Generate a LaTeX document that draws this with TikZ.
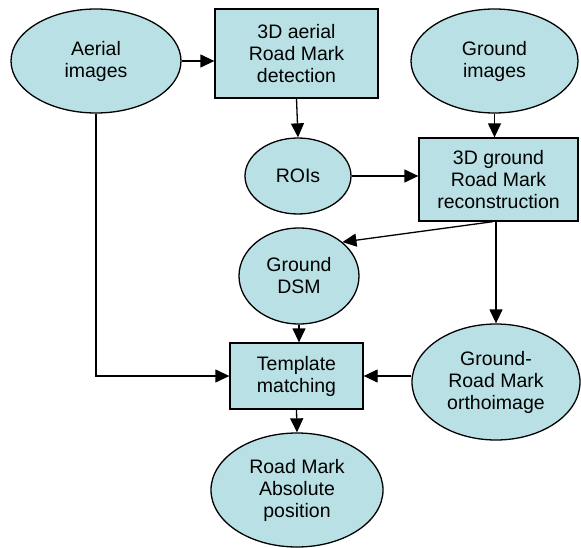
\documentclass[tikz,border=0pt]{standalone}
\usepackage{fontspec}
\setmainfont{Liberation Sans}
\usetikzlibrary{shapes.geometric,arrows.meta}
\definecolor{nodefill}{RGB}{185,224,228}
\tikzset{
  base/.style={draw=black, fill=nodefill, line width=1.3pt, inner sep=0pt, align=center,
    font=\fontsize{19.5}{22}\selectfont},
  oval/.style={base, ellipse},
  boxnode/.style={base, rectangle},
  conn/.style={line width=1.3pt, -{Triangle[length=14pt,width=13pt]}},
}
\begin{document}
\begin{tikzpicture}[x=1pt,y=-1pt]
\useasboundingbox (0,0) rectangle (581,548);
\node[oval, minimum width=170pt, minimum height=104pt] (ai) at (96,61) {Aerial\\images};
\node[boxnode, minimum width=163pt, minimum height=89pt] (ad) at (296.5,53.5) {3D aerial\\Road Mark\\detection};
\node[oval, minimum width=167pt, minimum height=104pt] (gi) at (494.5,61) {Ground\\images};
\node[oval, minimum width=106pt, minimum height=76pt] (roi) at (298,176) {ROIs};
\node[boxnode, minimum width=159pt, minimum height=83pt] (gr) at (498.5,179.5) {3D ground\\Road Mark\\reconstruction};
\node[oval, minimum width=120pt, minimum height=96pt] (dsm) at (299,276) {Ground\\DSM};
\node[oval, minimum width=168pt, minimum height=116pt] (gro) at (496,382) {Ground-\\Road Mark\\orthoimage};
\node[boxnode, minimum width=133pt, minimum height=66pt] (tm) at (296.5,376) {Template\\matching};
\node[oval, minimum width=172pt, minimum height=114pt] (rma) at (297,490) {Road Mark\\Absolute\\position};
\coordinate (split) at (gro.north |- gr.south);
\draw[conn] (ai.east) -- (ai.east -| ad.west);
\draw[conn] (ad.south) -- (roi.north);
\draw[conn] (gi.south) -- (gi.south |- gr.north);
\draw[conn] (roi.east) -- (roi.east -| gr.west);
\draw[conn] ([xshift=-3pt]split) -- (dsm.38);
\draw[conn] (split) -- (gro.north);
\draw[conn] (dsm.south) -- (dsm.south |- tm.north);
\draw[conn] (gro.west |- tm.east) -- (tm.east);
\draw[conn] (ai.south) -- (ai.south |- tm.west) -- (tm.west);
\draw[conn] (tm.south) -- (rma.north);
\end{tikzpicture}
\end{document}
